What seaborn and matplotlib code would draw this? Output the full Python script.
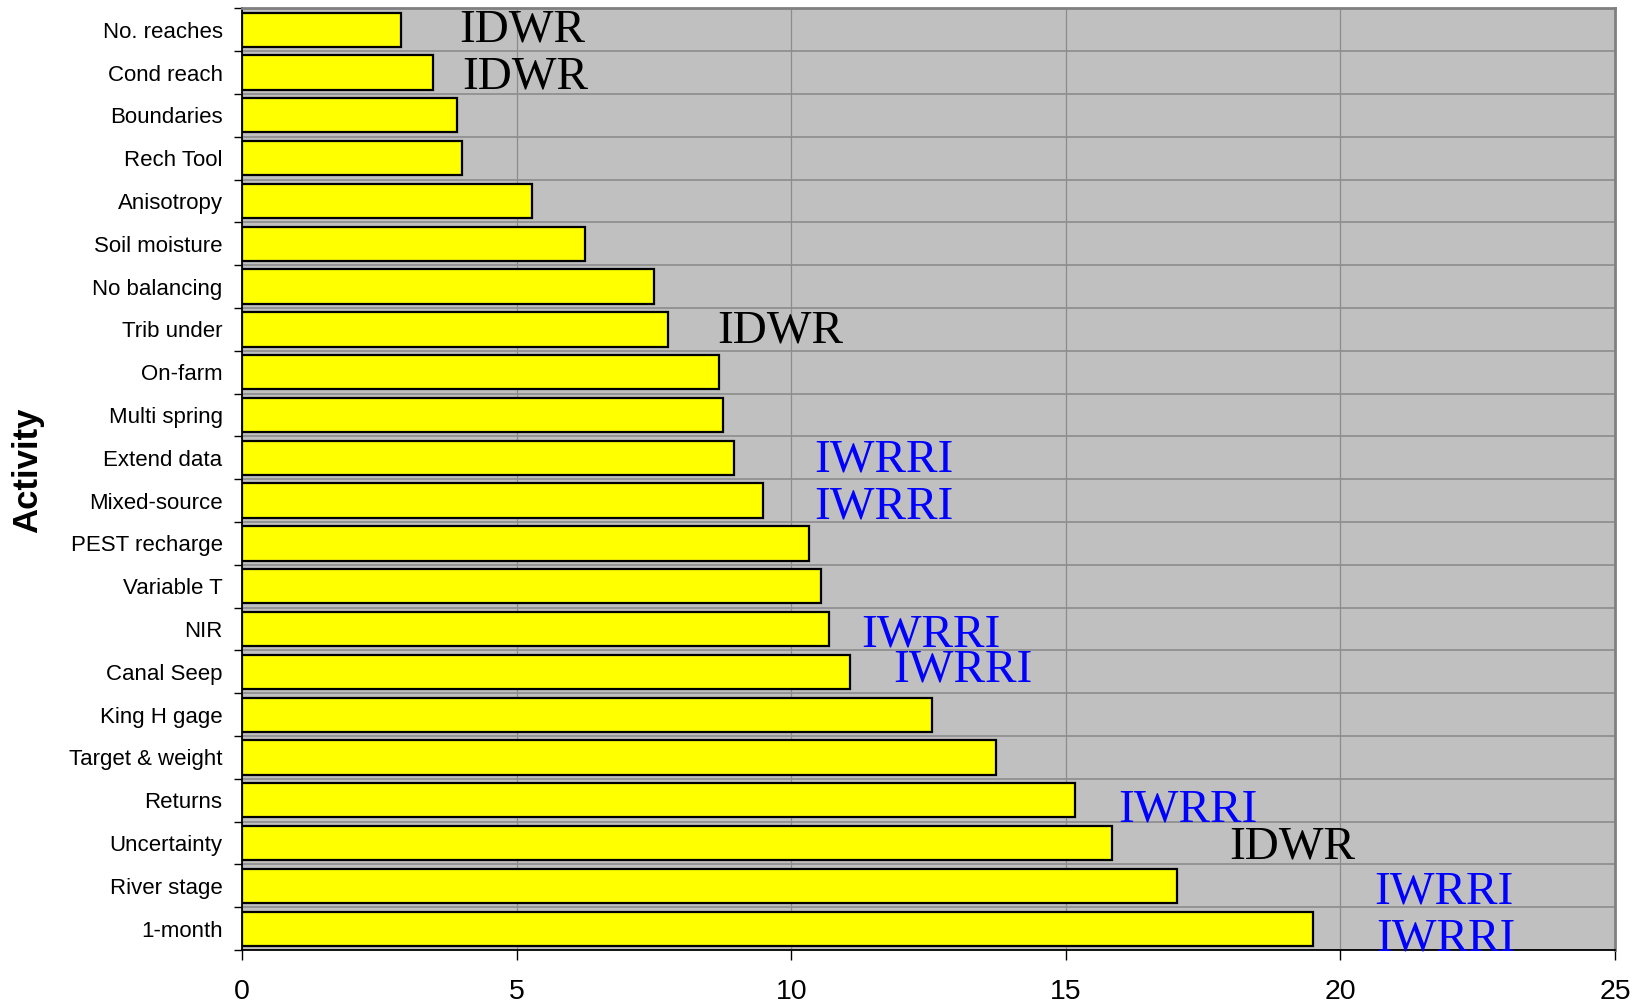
import matplotlib
matplotlib.use("Agg")
import matplotlib.pyplot as plt
import seaborn as sns
import numpy as np
import pandas as pd

# activities, top to bottom, and their values
activities = ["No. reaches", "Cond reach", "Boundaries", "Rech Tool", "Anisotropy",
              "Soil moisture", "No balancing", "Trib under", "On-farm", "Multi spring",
              "Extend data", "Mixed-source", "PEST recharge", "Variable T", "NIR",
              "Canal Seep", "King H gage", "Target & weight", "Returns", "Uncertainty",
              "River stage", "1-month"]
values = [2.90, 3.47, 3.92, 4.01, 5.28, 6.25, 7.50, 7.76, 8.68, 8.76,
          8.95, 9.48, 10.32, 10.54, 10.68, 11.07, 12.57, 13.72, 15.17, 15.84,
          17.03, 19.50]
xticks = [0, 5, 10, 15, 20, 25]

# who takes each activity on: (activity, agency)
owners = [("No. reaches", "IDWR"), ("Cond reach", "IDWR"), ("Trib under", "IDWR"),
          ("Extend data", "IWRRI"), ("Mixed-source", "IWRRI"), ("NIR", "IWRRI"),
          ("Canal Seep", "IWRRI"), ("Returns", "IWRRI"), ("Uncertainty", "IDWR"),
          ("River stage", "IWRRI"), ("1-month", "IWRRI")]
# where the owner labels sit (x in data units, small y nudge)
owner_pos = {"No. reaches": (3.95, 0.02), "Cond reach": (4.01, 0.12),
             "Trib under": (8.66, 0.05), "Extend data": (10.42, 0.06),
             "Mixed-source": (10.42, 0.16), "NIR": (11.28, 0.15),
             "Canal Seep": (11.85, -0.03), "Returns": (15.95, 0.24),
             "Uncertainty": (17.98, 0.10), "River stage": (20.61, 0.15),
             "1-month": (20.65, 0.24)}
owner_colors = {"IDWR": "black", "IWRRI": "#0000FF"}

df = pd.DataFrame({"Activity": activities, "Value": values})

fig = plt.figure(figsize=(16.43, 10.08), dpi=100)
ax = fig.add_axes([0.1473, 0.0575, 0.8357, 0.9342])
ax.set_facecolor("#C0C0C0")

sns.barplot(data=df, x="Value", y="Activity", orient="h", color="#FFFF00",
            saturation=1, edgecolor="black", linewidth=1.6, width=0.8, ax=ax, zorder=3)

ax.set_xlim(0, 25)
ax.set_ylim(len(activities) - 0.5, -0.5)
ax.set_xticks(xticks)
ax.set_xticklabels([str(t) for t in xticks], fontsize=20.5, family="Liberation Sans")
ax.set_yticks(range(len(activities)))
ax.set_yticklabels(activities, fontsize=16, family="Liberation Sans")
ax.set_yticks(np.arange(-0.5, len(activities), 1), minor=True)

ax.tick_params(axis="y", which="major", length=0, pad=14)
ax.tick_params(axis="y", which="minor", length=6, width=1, color="black", direction="out")
ax.tick_params(axis="x", which="major", length=7, width=1, color="black", pad=14)

ax.grid(False)
ax.grid(True, axis="y", which="minor", color="#8c8c8c", linewidth=1.2, zorder=1)
ax.grid(True, axis="x", which="major", color="#8c8c8c", linewidth=0.9, zorder=1)
ax.set_axisbelow(True)

for side in ["left", "bottom"]:
    ax.spines[side].set_color("black")
    ax.spines[side].set_linewidth(1.3)
for side in ["top", "right"]:
    ax.spines[side].set_color("#808080")
    ax.spines[side].set_linewidth(2)

for act, agency in owners:
    xpos, dy = owner_pos[act]
    ax.text(xpos, activities.index(act) + dy, agency, color=owner_colors[agency],
            fontsize=34, family="Liberation Serif", ha="left", va="center", zorder=4)

ax.set_xlabel("")
ax.set_ylabel("Activity", fontsize=25, fontweight="bold", family="Liberation Sans")
ax.yaxis.set_label_coords(-0.144, 0.51)

fig.savefig("out.png", dpi=100)
